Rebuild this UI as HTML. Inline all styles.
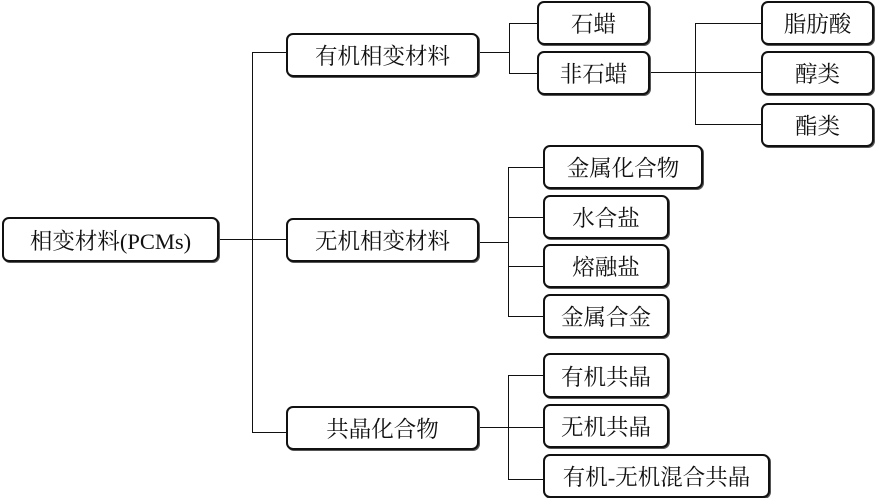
<!DOCTYPE html>
<html><head><meta charset="utf-8"><style>
html,body{margin:0;padding:0;background:#fff;}
body{width:876px;height:498px;position:relative;overflow:hidden;font-family:"Liberation Serif","Noto Serif CJK SC",serif;}
.b{position:absolute;box-sizing:border-box;border:2px solid #111;border-radius:7px;display:flex;align-items:center;justify-content:center;font-size:22.5px;color:#111;background:#fff;box-shadow:1px 1px 0 #555;}
.h,.v{position:absolute;background:#111;}
.h{height:1px;}
.v{width:1px;}
</style></head><body>
<!-- lines -->
<div class="h" style="left:219px;top:239px;width:68px"></div>
<div class="v" style="left:252px;top:52px;height:380px"></div>
<div class="h" style="left:252px;top:52px;width:35px"></div>
<div class="h" style="left:252px;top:432px;width:35px"></div>

<div class="h" style="left:479px;top:52px;width:30px"></div>
<div class="v" style="left:509px;top:23px;height:50px"></div>
<div class="h" style="left:509px;top:23px;width:28px"></div>
<div class="h" style="left:509px;top:73px;width:28px"></div>

<div class="h" style="left:650px;top:72px;width:111px"></div>
<div class="v" style="left:695px;top:23px;height:101px"></div>
<div class="h" style="left:695px;top:23px;width:66px"></div>
<div class="h" style="left:695px;top:124px;width:66px"></div>

<div class="h" style="left:479px;top:242px;width:30px"></div>
<div class="v" style="left:508px;top:167px;height:149px"></div>
<div class="h" style="left:508px;top:167px;width:36px"></div>
<div class="h" style="left:508px;top:217px;width:36px"></div>
<div class="h" style="left:508px;top:266px;width:36px"></div>
<div class="h" style="left:508px;top:316px;width:36px"></div>

<div class="h" style="left:479px;top:427px;width:65px"></div>
<div class="v" style="left:508px;top:375px;height:104px"></div>
<div class="h" style="left:508px;top:375px;width:36px"></div>
<div class="h" style="left:508px;top:479px;width:36px"></div>

<!-- boxes -->
<div class="b" style="left:2px;top:217px;width:217px;height:45px">相变材料(PCMs)</div>
<div class="b" style="left:286px;top:33px;width:193px;height:44px">有机相变材料</div>
<div class="b" style="left:286px;top:218px;width:193px;height:44px">无机相变材料</div>
<div class="b" style="left:286px;top:406px;width:193px;height:44px">共晶化合物</div>

<div class="b" style="left:537px;top:1px;width:113px;height:44px">石蜡</div>
<div class="b" style="left:537px;top:51px;width:113px;height:44px">非石蜡</div>

<div class="b" style="left:761px;top:1px;width:113px;height:44px">脂肪酸</div>
<div class="b" style="left:761px;top:51px;width:113px;height:44px">醇类</div>
<div class="b" style="left:761px;top:103px;width:113px;height:44px">酯类</div>

<div class="b" style="left:543px;top:145px;width:160px;height:44px">金属化合物</div>
<div class="b" style="left:543px;top:195px;width:126px;height:44px">水合盐</div>
<div class="b" style="left:543px;top:244px;width:126px;height:44px">熔融盐</div>
<div class="b" style="left:543px;top:294px;width:126px;height:44px">金属合金</div>

<div class="b" style="left:543px;top:353px;width:126px;height:45px">有机共晶</div>
<div class="b" style="left:543px;top:404px;width:126px;height:44px">无机共晶</div>
<div class="b" style="left:543px;top:454px;width:227px;height:44px">有机-无机混合共晶</div>
</body></html>
